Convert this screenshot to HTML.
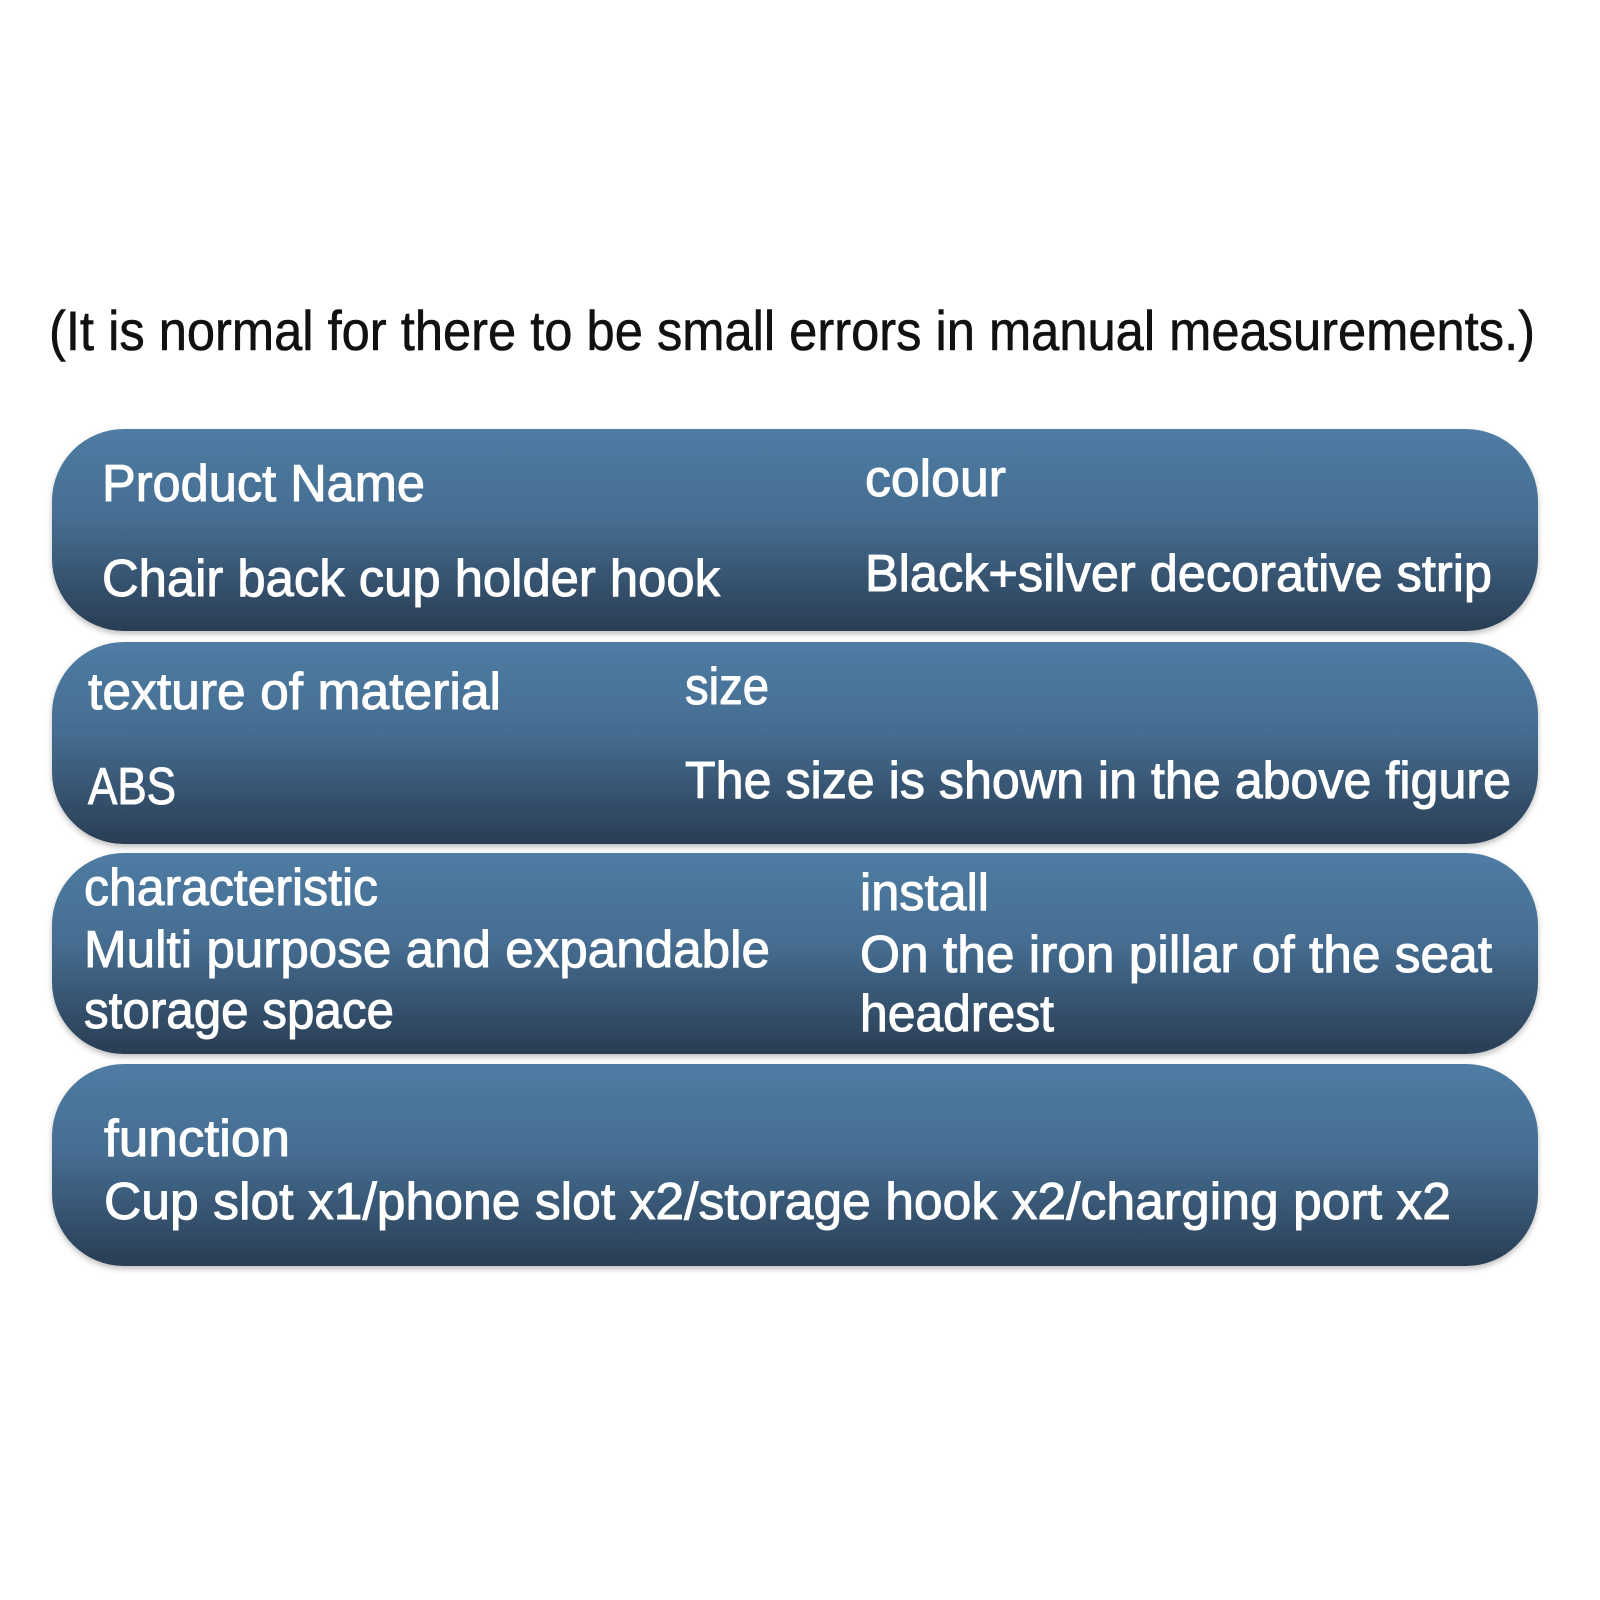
<!DOCTYPE html>
<html><head><meta charset="utf-8"><style>
html,body{margin:0;padding:0;background:#fff;}
svg{display:block;}
</style></head><body>
<svg width="1600" height="1600" viewBox="0 0 1600 1600" xmlns="http://www.w3.org/2000/svg">
<defs>
<linearGradient id="g" x1="0" y1="0" x2="0" y2="1">
<stop offset="0" stop-color="#4f7ca3"/>
<stop offset="0.45" stop-color="#456d91"/>
<stop offset="1" stop-color="#293d53"/>
</linearGradient>
<filter id="s" x="-5%" y="-10%" width="110%" height="125%"><feDropShadow dx="0" dy="3" stdDeviation="3" flood-color="#000" flood-opacity="0.25"/></filter>
</defs>
<text x="49" y="350" font-family="Liberation Sans, sans-serif" font-size="56" fill="#111" stroke="#111" stroke-width="0.6" textLength="1486" lengthAdjust="spacingAndGlyphs">(It is normal for there to be small errors in manual measurements.)</text>
<g filter="url(#s)">
<rect x="52" y="429" width="1486" height="202" rx="72" fill="url(#g)"/>
<rect x="52" y="642" width="1486" height="202" rx="72" fill="url(#g)"/>
<rect x="52" y="853" width="1486" height="201" rx="72" fill="url(#g)"/>
<rect x="52" y="1064" width="1486" height="202" rx="72" fill="url(#g)"/>
</g>
<g font-family="Liberation Sans, sans-serif" font-size="52" fill="#fff" stroke="#fff" stroke-width="1" lengthAdjust="spacingAndGlyphs">
<text x="102" y="501" textLength="323" lengthAdjust="spacingAndGlyphs">Product Name</text>
<text x="865" y="496" textLength="141" lengthAdjust="spacingAndGlyphs">colour</text>
<text x="102" y="596" textLength="618" lengthAdjust="spacingAndGlyphs">Chair back cup holder hook</text>
<text x="865" y="591" textLength="627" lengthAdjust="spacingAndGlyphs">Black+silver decorative strip</text>
<text x="88" y="709" textLength="413" lengthAdjust="spacingAndGlyphs">texture of material</text>
<text x="685" y="704" textLength="84" lengthAdjust="spacingAndGlyphs">size</text>
<text x="88" y="804" textLength="88" lengthAdjust="spacingAndGlyphs">ABS</text>
<text x="685" y="798" textLength="826" lengthAdjust="spacingAndGlyphs">The size is shown in the above figure</text>
<text x="84" y="905" textLength="294" lengthAdjust="spacingAndGlyphs">characteristic</text>
<text x="84" y="967" textLength="686" lengthAdjust="spacingAndGlyphs">Multi purpose and expandable</text>
<text x="84" y="1028" textLength="310" lengthAdjust="spacingAndGlyphs">storage space</text>
<text x="860" y="910" textLength="129" lengthAdjust="spacingAndGlyphs">install</text>
<text x="860" y="972" textLength="632" lengthAdjust="spacingAndGlyphs">On the iron pillar of the seat</text>
<text x="860" y="1031" textLength="194" lengthAdjust="spacingAndGlyphs">headrest</text>
<text x="104" y="1156" textLength="186" lengthAdjust="spacingAndGlyphs">function</text>
<text x="104" y="1219" textLength="1347" lengthAdjust="spacingAndGlyphs">Cup slot x1/phone slot x2/storage hook x2/charging port x2</text>
</g>
</svg>
</body></html>
